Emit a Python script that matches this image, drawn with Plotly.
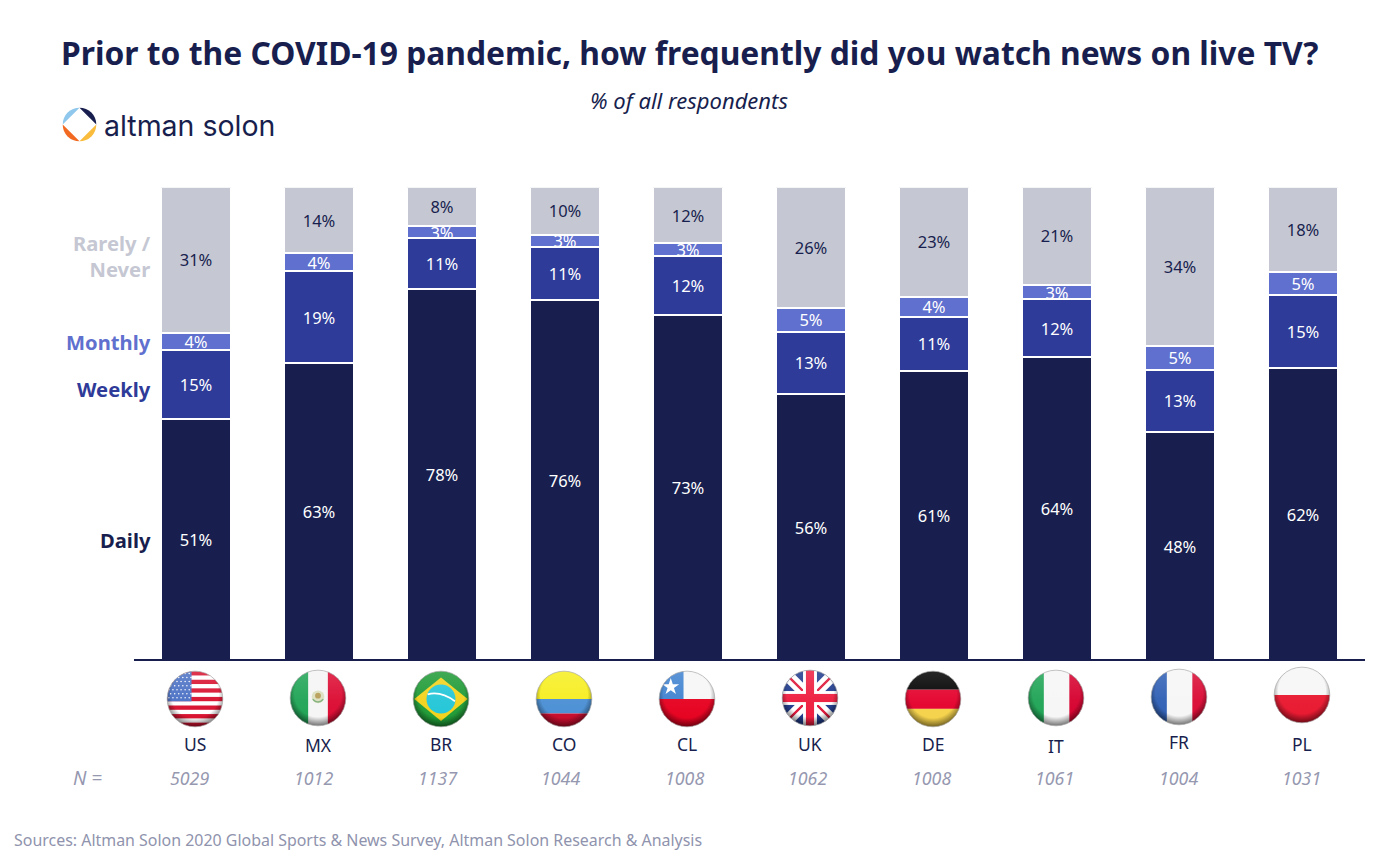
import base64
import plotly.graph_objects as go

countries = ["US", "MX", "BR", "CO", "CL", "UK", "DE", "IT", "FR", "PL"]
sample_n = ["5029", "1012", "1137", "1044", "1008", "1062", "1008", "1061", "1004", "1031"]
daily = [51.1, 62.9, 78.4, 76.1, 73.1, 56.4, 61.2, 64.2, 48.3, 61.9]
weekly = [14.6, 19.3, 10.8, 11.2, 12.4, 13.0, 11.4, 12.1, 13.1, 15.4]
monthly = [3.6, 3.8, 2.6, 2.7, 2.7, 5.1, 4.3, 3.1, 5.1, 4.7]
rarely = [30.7, 14.0, 8.2, 10.0, 11.8, 25.5, 23.1, 20.6, 33.5, 18.0]

NAVY, BLUE, PERI, GREY = "#181F4E", "#2E3B98", "#6070CE", "#C5C7D3"
W, H = 1388, 860
FONT = "Noto Sans"


def px(x):
    return x / W


def py(y):
    return 1 - y / H


def uri(svg):
    return "data:image/svg+xml;base64," + base64.b64encode(svg.encode()).decode()


def flag_svg(body):
    return f'''<svg xmlns="http://www.w3.org/2000/svg" width="240" height="240" viewBox="0 0 100 100">
<defs><clipPath id="c"><circle cx="50" cy="50" r="48"/></clipPath>
<radialGradient id="e" cx="50%" cy="42%" r="58%">
<stop offset="0%" stop-color="#000" stop-opacity="0"/><stop offset="70%" stop-color="#000" stop-opacity="0"/>
<stop offset="100%" stop-color="#000" stop-opacity="0.6"/></radialGradient>
<linearGradient id="g" x1="0" y1="0" x2="0" y2="1"><stop offset="0%" stop-color="#fff" stop-opacity="0.16"/>
<stop offset="55%" stop-color="#fff" stop-opacity="0.04"/><stop offset="100%" stop-color="#fff" stop-opacity="0"/></linearGradient></defs>
<g clip-path="url(#c)">{body}
<rect width="100" height="100" fill="url(#g)"/><rect width="100" height="100" fill="url(#e)"/></g>
<circle cx="50" cy="50" r="48" fill="none" stroke="#a8a8a8" stroke-width="1.2"/></svg>'''


def rect(x, y, w, h, c):
    return f'<rect x="{x}" y="{y}" width="{w}" height="{h}" fill="{c}"/>'


def us():
    s = rect(0, 0, 100, 100, "#fff")
    for k in range(0, 13, 2):
        s += rect(0, 2 + k * 7.4, 100, 7.4, "#D8102E")
    s += rect(0, 0, 44, 54, "#4A70C4")
    for r in range(7):
        for c in range(6):
            s += f'<circle cx="{5 + c * 7 + (r % 2) * 3}" cy="{6 + r * 7}" r="1.3" fill="#fff"/>'
    return s


def uk():
    s = rect(0, 0, 100, 100, "#1E3A8C")
    s += '<path d="M0 8L92 100M8 0L100 92M100 8L8 100M92 0L0 92" stroke="#fff" stroke-width="9"/>'
    s += '<path d="M0 0L100 100M100 0L0 100" stroke="#E0173A" stroke-width="4"/>'
    s += rect(38, 0, 24, 100, "#fff") + rect(0, 38, 100, 24, "#fff")
    s += rect(43, 0, 14, 100, "#EE1C3E") + rect(0, 43, 100, 14, "#EE1C3E")
    return s


FLAGS = [
    us(),
    rect(0, 0, 100, 100, "#f5f5f5") + rect(0, 0, 33, 100, "#1FA455") + rect(67, 0, 33, 100, "#DC0A32")
    + '<circle cx="50" cy="48" r="11" fill="#DCE0C0"/><circle cx="50" cy="46" r="5" fill="#B79D58"/>'
    + '<path d="M41 52Q50 62 59 52" stroke="#7FB07A" stroke-width="2.5" fill="none"/>',
    rect(0, 0, 100, 100, "#1E9A35") + '<path d="M50 13L96 50L50 88L4 50Z" fill="#F3D21A"/>'
    + '<circle cx="50" cy="50" r="25" fill="#22C6D8"/>'
    + '<path d="M27 42Q50 36 74 54" stroke="#fff" stroke-width="3" fill="none"/>',
    rect(0, 0, 100, 50, "#F6EE1E") + rect(0, 50, 100, 25, "#4A8FD4") + rect(0, 75, 100, 25, "#C80A2C"),
    rect(0, 0, 100, 50, "#f6f6f6") + rect(0, 50, 100, 50, "#E6001F") + rect(0, 0, 44, 50, "#3F82D0")
    + '<path d="M22 14L25.5 24.5L36.5 24.5L27.5 31L31 41.5L22 35L13 41.5L16.5 31L7.5 24.5L18.5 24.5Z" fill="#fff"/>',
    uk(),
    rect(0, 0, 100, 34, "#000") + rect(0, 34, 100, 33, "#E4002B") + rect(0, 67, 100, 33, "#F5D24A"),
    rect(0, 0, 100, 100, "#f6f6f6") + rect(0, 0, 29, 100, "#1FA455") + rect(73, 0, 27, 100, "#D6002E"),
    rect(0, 0, 100, 100, "#f6f6f6") + rect(0, 0, 29, 100, "#2F5FB4") + rect(73, 0, 27, 100, "#DA0A34"),
    rect(0, 0, 100, 50, "#f6f6f6") + rect(0, 50, 100, 50, "#E8172F"),
]

LOGO = f'''<svg xmlns="http://www.w3.org/2000/svg" width="200" height="200" viewBox="0 0 100 100">
<path d="M2 50A48 48 0 0 1 50 2Z" fill="#8FC8EC"/>
<path d="M50 2A48 48 0 0 1 98 50Z" fill="{NAVY}"/>
<path d="M98 50A48 48 0 0 1 50 98Z" fill="#F9BC3C"/>
<path d="M50 98A48 48 0 0 1 2 50Z" fill="#F26A21"/></svg>'''


def bar(name, values, color, text_color):
    return go.Bar(
        name=name, x=countries, y=values,
        marker=dict(color=color, line=dict(color="white", width=2)),
        texttemplate="%{y:.0f}%", textposition="inside", insidetextanchor="middle",
        constraintext="none", textangle=0,
        textfont=dict(family=FONT, size=16.5, color=text_color),
        hoverinfo="skip",
    )


fig = go.Figure([
    bar("Daily", daily, NAVY, "white"),
    bar("Weekly", weekly, BLUE, "white"),
    bar("Monthly", monthly, PERI, "white"),
    bar("Rarely / Never", rarely, GREY, NAVY),
])


def label(x, y, text, size, color, anchor="center", bold=False, italic=False, family=FONT):
    fig.add_annotation(
        xref="paper", yref="paper", x=px(x), y=py(y), text=f"<b>{text}</b>" if bold else text,
        showarrow=False, xanchor=anchor, yanchor="middle", align="right" if anchor == "right" else "center",
        font=dict(family=family, size=size, color=color, style="italic" if italic else "normal"),
    )


label(689.5, 53, "Prior to the COVID-19 pandemic, how frequently did you watch news on live TV?", 31.8, NAVY, bold=True)
label(689, 100.5, "% of all respondents", 22, NAVY, italic=True)
label(102, 125, "altman solon", 28.5, NAVY, anchor="left", family="Inter")
label(153, 256.5, "Rarely /<br>Never", 20.2, GREY, anchor="right", bold=True)
label(153, 342, "Monthly", 20.2, PERI, anchor="right", bold=True)
label(153, 389, "Weekly", 20.2, BLUE, anchor="right", bold=True)
label(153, 540, "Daily", 20.2, NAVY, anchor="right", bold=True)
label(87, 778, "N =", 19, "#9698B0", italic=True)
label(12, 840, "Sources: Altman Solon 2020 Global Sports &amp; News Survey, Altman Solon Research &amp; Analysis", 15.95, "#8F93AD", anchor="left")

code_dy = [0, 1, 0, 0, 0, 0, 0, 2, -2, 0]
flag_y = [699, 698, 699, 699, 699, 698, 699, 698, 697, 695]
for i, c in enumerate(countries):
    label(195 + 123 * i, 744 + code_dy[i], c, 17.5, NAVY)
    label(190 + 123.5 * i, 778, sample_n[i], 17.8, "#9698B0", italic=True)
    fig.add_layout_image(
        source=uri(flag_svg(FLAGS[i])), xref="paper", yref="paper",
        x=px(195 + 123 * i), y=py(flag_y[i]), sizex=58 / W, sizey=58 / H,
        xanchor="center", yanchor="middle", sizing="contain", layer="above",
    )

fig.add_layout_image(
    source=uri(LOGO), xref="paper", yref="paper", x=px(79.5), y=py(124.5),
    sizex=35 / W, sizey=35 / H, xanchor="center", yanchor="middle", sizing="contain", layer="above",
)

fig.add_shape(type="line", xref="paper", yref="paper", x0=px(134), x1=px(1365), y0=py(660), y1=py(660),
              line=dict(color=NAVY, width=2), layer="above")

fig.update_layout(
    width=W, height=H, margin=dict(l=0, r=0, t=0, b=0),
    paper_bgcolor="white", plot_bgcolor="white",
    barmode="stack", bargap=1 - 70 / 123, showlegend=False,
    xaxis=dict(domain=[px(134.5), px(1364.5)], range=[-0.5, 9.5], type="category", fixedrange=True,
               showline=False, showticklabels=False, ticks="", showgrid=False, zeroline=False),
    yaxis=dict(domain=[py(660.5), py(187.2)], range=[0, 100], visible=False, fixedrange=True),
)

fig.write_html("out.html", post_script="document.body.style.margin='0';", config={"displayModeBar": False})
